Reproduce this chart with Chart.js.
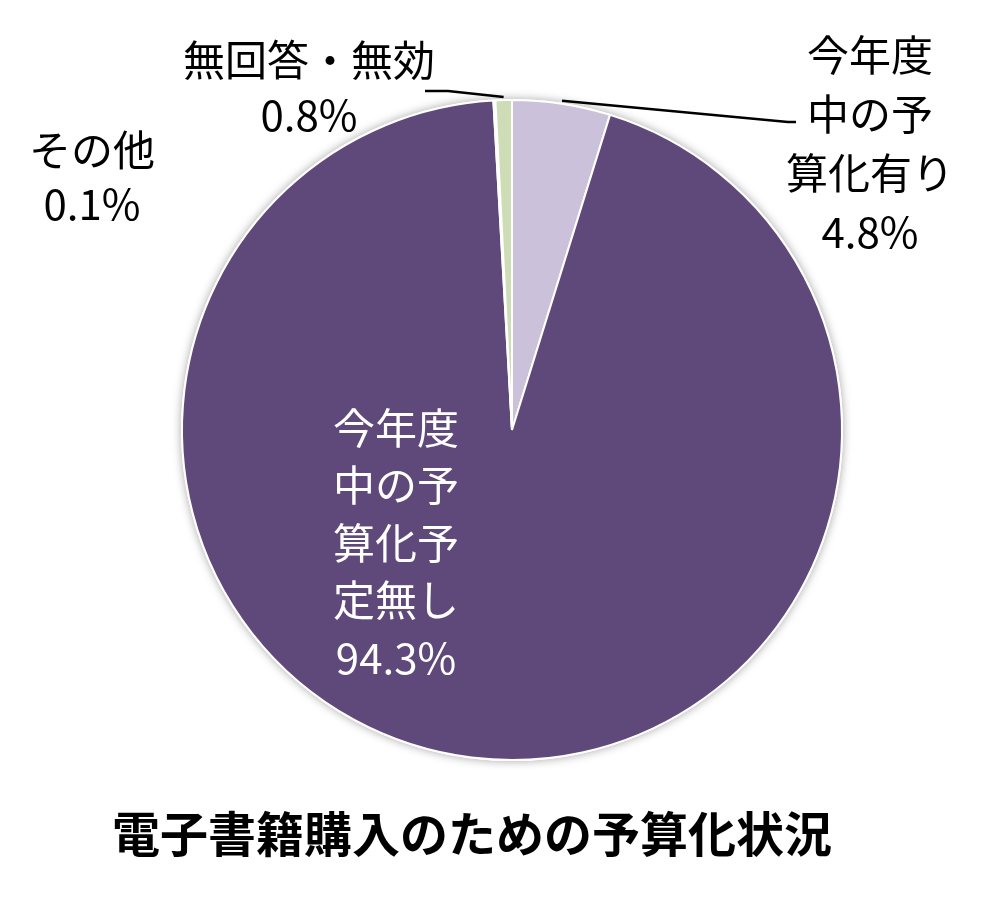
<!DOCTYPE html>
<html>
<head>
<meta charset="utf-8">
<script src="https://cdn.jsdelivr.net/npm/chart.js@4"></script>
<style>
  html, body { margin: 0; padding: 0; background: #fff; }
  #wrap { width: 1000px; height: 919px; }
</style>
</head>
<body>
<div id="wrap"><canvas id="myChart" width="1000" height="919"></canvas></div>
<script>
// data (clockwise from 12 o'clock)
const categories = ['今年度中の予算化有り', '今年度中の予算化予定無し', 'その他', '無回答・無効'];
const values = [4.8, 94.3, 0.1, 0.8];
// label text as shown on the chart, one entry per line
const labelLines = [
  ['今年度', '中の予', '算化有り'],
  ['今年度', '中の予', '算化予', '定無し'],
  ['その他'],
  ['無回答・無効']
];
const colors = ['#CCC1DA', '#5F497A', '#B9CDE5', '#CFDDB6'];
const chartTitle = '電子書籍購入のための予算化状況';

const FONT = '"Noto Sans CJK JP", "Noto Sans", sans-serif';

// soft shadow behind the pie
const shadowPlugin = {
  id: 'pieShadow',
  beforeDatasetsDraw(chart) {
    const arc = chart.getDatasetMeta(0).data[0];
    const ctx = chart.ctx;
    ctx.save();
    ctx.shadowColor = 'rgba(0,0,0,0.35)';
    ctx.shadowBlur = 10;
    ctx.fillStyle = '#ffffff';
    ctx.beginPath();
    ctx.arc(arc.x, arc.y, arc.outerRadius + 1, 0, Math.PI * 2);
    ctx.fill();
    ctx.restore();
  }
};

// labels, leader lines and title
const labelPlugin = {
  id: 'sliceLabels',
  afterDatasetsDraw(chart) {
    const ctx = chart.ctx;
    const arcs = chart.getDatasetMeta(0).data;
    const cx = arcs[0].x, cy = arcs[0].y, r = arcs[0].outerRadius;

    function anchor(i) {
      const a = (arcs[i].startAngle + arcs[i].endAngle) / 2;
      return [cx + Math.cos(a) * (r + 3), cy + Math.sin(a) * (r + 3)];
    }
    function block(i, x, y, color, step) {
      const lines = labelLines[i].concat([values[i].toFixed(1) + '%']);
      ctx.fillStyle = color;
      lines.forEach((t, k) => ctx.fillText(t, x, y + k * step));
    }

    ctx.save();
    // leader lines
    ctx.strokeStyle = '#000';
    ctx.lineWidth = 2.5;
    let p = anchor(3);
    ctx.beginPath();
    ctx.moveTo(p[0], p[1]);
    ctx.lineTo(cx - 64, cy - 339);
    ctx.lineTo(cx - 87, cy - 339);
    ctx.stroke();
    p = anchor(0);
    ctx.beginPath();
    ctx.moveTo(p[0], p[1]);
    ctx.lineTo(cx + 276, cy - 308);
    ctx.lineTo(cx + 284, cy - 308);
    ctx.stroke();

    ctx.font = '42px ' + FONT;
    ctx.textAlign = 'center';
    ctx.textBaseline = 'middle';
    block(0, cx + 358, cy - 375, '#000', 59);
    block(1, cx - 116, cy - 2, '#fff', 57.5);
    block(2, cx - 420, cy - 280, '#000', 54);
    block(3, cx - 203, cy - 370, '#000', 55);

    ctx.font = 'bold 48px ' + FONT;
    ctx.fillStyle = '#000';
    ctx.fillText(chartTitle, cx - 40, cy + 404);
    ctx.restore();
  }
};

new Chart(document.getElementById('myChart').getContext('2d'), {
  type: 'pie',
  data: {
    labels: categories,
    datasets: [{
      data: values,
      backgroundColor: colors,
      borderColor: '#ffffff',
      borderWidth: 2
    }]
  },
  options: {
    responsive: false,
    animation: false,
    layout: { padding: { left: 181, top: 99, right: 157, bottom: 158 } },
    plugins: {
      legend: { display: false },
      tooltip: { enabled: false }
    }
  },
  plugins: [shadowPlugin, labelPlugin]
});
</script>
</body>
</html>
